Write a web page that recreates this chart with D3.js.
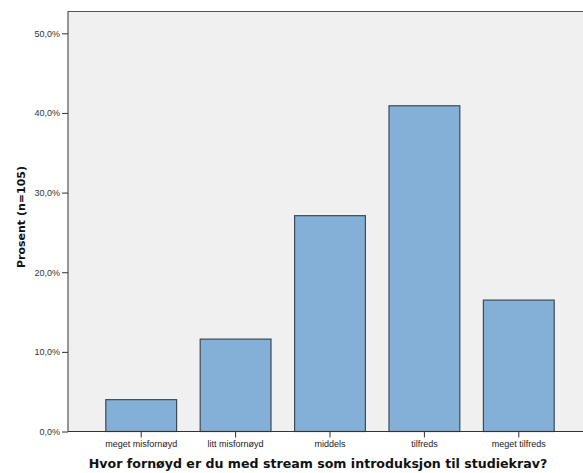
<!DOCTYPE html>
<html><head><meta charset="utf-8">
<script src="https://cdn.jsdelivr.net/npm/d3@7"></script>
<style>body{margin:0;background:#fff}svg{display:block}</style>
</head><body>
<script>
const categories = ["meget misfornøyd","litt misfornøyd","middels","tilfreds","meget tilfreds"];
const values = [4.0, 11.6, 27.1, 40.9, 16.5];
const yTicks = [0,10,20,30,40,50];
const xTitle = "Hvor fornøyd er du med stream som introduksjon til studiekrav?";
const yTitle = "Prosent (n=105)";

(function(){
const W=583,H=473;
const svg=d3.select("body").append("svg").attr("width",W).attr("height",H);
const pL=68, pT=11.5, pR=W, pB=431.5;
const y=d3.scaleLinear().domain([0,50]).range([pB,33.3]);
const x=d3.scaleBand().domain(categories).range([94,566]).paddingInner(0.25).paddingOuter(0.125);

svg.append("rect").attr("x",pL).attr("y",pT).attr("width",pR-pL).attr("height",pB-pT).attr("fill","#f0f0f0");
svg.append("path").attr("d",`M${pL},${pB}V${pT}H${pR}`).attr("fill","none").attr("stroke","#555").attr("stroke-width",1.2);

svg.selectAll("rect.bar").data(values).join("rect").attr("class","bar")
 .attr("x",(d,i)=>x(categories[i])).attr("width",x.bandwidth())
 .attr("y",d=>y(d)).attr("height",d=>pB-y(d))
 .attr("fill","#84b0d8").attr("stroke","#3f4a55").attr("stroke-width",1.2);

const ya=svg.append("g").attr("transform",`translate(${pL},0)`)
 .call(d3.axisLeft(y).tickValues(yTicks).tickSize(6).tickPadding(2).tickFormat(d=>d.toFixed(1).replace(".",",")+"%"));
ya.select(".domain").remove();
ya.selectAll("line").attr("stroke","#333");
ya.selectAll("text").attr("font-family","Liberation Sans, Arial, sans-serif").attr("font-size",9).attr("fill","#333");

const xa=svg.append("g").attr("transform",`translate(0,${pB})`)
 .call(d3.axisBottom(x).tickSize(6).tickPadding(3));
xa.select(".domain").attr("d",`M${pL},0H${pR}`).attr("stroke","#333").attr("stroke-width",1.2);
xa.selectAll("line").attr("stroke","#333");
xa.selectAll("text").attr("font-family","Liberation Sans, Arial, sans-serif").attr("font-size",9).attr("fill","#222");

svg.append("text").attr("x",318).attr("y",468).attr("text-anchor","middle")
 .attr("font-family","DejaVu Sans, Verdana, sans-serif").attr("font-weight","bold").attr("font-size",12.6).attr("fill","#111").text(xTitle);
svg.append("text").attr("transform","translate(25,217) rotate(-90)").attr("text-anchor","middle")
 .attr("font-family","DejaVu Sans, Verdana, sans-serif").attr("font-weight","bold").attr("font-size",11).attr("fill","#111").text(yTitle);
})();
</script>
</body></html>
